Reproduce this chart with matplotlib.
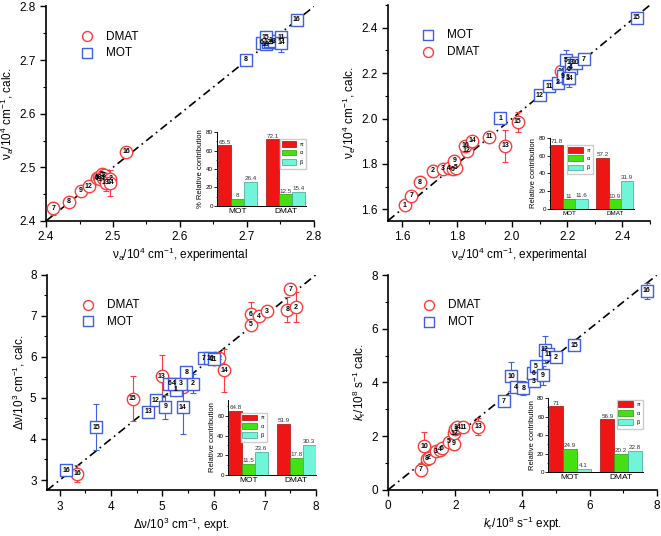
import numpy as np
import matplotlib
matplotlib.use("Agg")
import matplotlib.pyplot as plt
from matplotlib.ticker import MultipleLocator

plt.rcParams["font.family"] = ["Liberation Sans", "DejaVu Sans"]
plt.rcParams["mathtext.fontset"] = "custom"
plt.rcParams["mathtext.rm"] = "Liberation Sans"
plt.rcParams["mathtext.it"] = "Liberation Sans:italic"
plt.rcParams["mathtext.default"] = "regular"

RED = "#ff3b3b"
BLUE = "#4060e0"
BAR_COLORS = ["#f01515", "#44e011", "#70f5d8"]
BAR_EDGES = ["#a01010", "#2a9a10", "#40a090"]

# ---- panel A: nu_a ----
a_dmat_id = [7, 8, 9, 12, 6, 10, 5, 1, 3, 4, 2, 13, 14, 16]
a_dmat_x = [2.411, 2.434, 2.452, 2.464, 2.476, 2.479, 2.483, 2.480, 2.487, 2.485, 2.496, 2.489, 2.496, 2.520]
a_dmat_y = [2.424, 2.436, 2.456, 2.465, 2.480, 2.482, 2.487, 2.478, 2.485, 2.480, 2.479, 2.471, 2.471, 2.529]
a_dmat_err = [0.012, 0, 0, 0, 0, 0, 0, 0, 0, 0, 0, 0.015, 0.025, 0]
a_mot_id = [8, 6, 10, 12, 5, 1, 3, 15, 11, 14, 16]
a_mot_x = [2.698, 2.722, 2.728, 2.731, 2.737, 2.735, 2.740, 2.728, 2.751, 2.751, 2.774]
a_mot_y = [2.701, 2.732, 2.730, 2.733, 2.733, 2.736, 2.735, 2.743, 2.743, 2.732, 2.775]
a_mot_err = [0.008, 0, 0, 0, 0, 0, 0, 0.012, 0, 0.016, 0]
a_bars_mot = [65.5, 8, 26.4]
a_bars_dmat = [72.1, 12.5, 15.4]

# ---- panel B: nu_e ----
b_dmat_id = [1, 7, 8, 2, 3, 4, 6, 5, 9, 12, 10, 14, 11, 13, 15, 16]
b_dmat_x = [1.610, 1.634, 1.665, 1.712, 1.748, 1.770, 1.785, 1.795, 1.790, 1.835, 1.830, 1.855, 1.917, 1.974, 2.020, 2.177]
b_dmat_y = [1.618, 1.659, 1.720, 1.769, 1.779, 1.780, 1.776, 1.782, 1.813, 1.857, 1.879, 1.901, 1.919, 1.879, 1.985, 2.209]
b_dmat_err = [0, 0, 0.02, 0.025, 0, 0, 0, 0, 0, 0, 0, 0, 0, 0.07, 0.045, 0]
b_mot_id = [1, 12, 11, 2, 9, 3, 6, 4, 14, 5, 13, 10, 7, 15]
b_mot_x = [1.957, 2.101, 2.135, 2.165, 2.185, 2.201, 2.205, 2.213, 2.207, 2.195, 2.213, 2.231, 2.261, 2.452]
b_mot_y = [2.001, 2.102, 2.143, 2.158, 2.187, 2.180, 2.217, 2.224, 2.177, 2.256, 2.246, 2.246, 2.261, 2.444]
b_mot_err = [0, 0, 0, 0, 0, 0, 0, 0, 0.04, 0.045, 0, 0, 0, 0]
b_bars_mot = [71.8, 11, 11.6]
b_bars_dmat = [57.2, 10.9, 31.9]

# ---- panel C: delta nu ----
c_dmat_id = [16, 15, 13, 11, 1, 9, 12, 14, 6, 5, 4, 3, 8, 2, 7]
c_dmat_x = [3.345, 4.42, 4.986, 5.40, 6.00, 6.03, 6.10, 6.21, 6.73, 6.73, 6.89, 7.04, 7.44, 7.60, 7.50]
c_dmat_y = [3.154, 4.985, 5.53, 5.27, 5.94, 5.96, 5.97, 5.67, 7.04, 6.78, 6.99, 7.11, 7.15, 7.21, 7.65]
c_dmat_err = [0.2, 0.55, 0.52, 0, 0, 0, 0, 0.52, 0.3, 0, 0, 0, 0.3, 0.37, 0.15]
c_mot_id = [16, 15, 13, 12, 9, 1, 6, 4, 3, 2, 8, 14, 7, 10, 11]
c_mot_x = [3.13, 3.716, 4.725, 4.875, 5.06, 5.26, 5.135, 5.23, 5.37, 5.59, 5.47, 5.40, 5.81, 5.93, 6.00]
c_mot_y = [3.235, 4.29, 4.66, 4.945, 4.78, 5.20, 5.34, 5.34, 5.34, 5.34, 5.63, 4.77, 5.96, 5.96, 5.94]
c_mot_err = [0, 0.55, 0, 0, 0.3, 0, 0.15, 0, 0, 0.23, 0.12, 0.65, 0, 0, 0]
c_bars_mot = [64.8, 11.5, 23.6]
c_bars_dmat = [51.9, 17.8, 30.3]

# ---- panel D: k_r ----
d_dmat_id = [7, 10, 8, 2, 3, 4, 6, 5, 9, 12, 1, 14, 11, 13]
d_dmat_x = [0.974, 1.07, 1.14, 1.22, 1.42, 1.54, 1.59, 1.81, 1.96, 1.96, 2.00, 2.06, 2.24, 2.68]
d_dmat_y = [0.746, 1.62, 1.16, 1.20, 1.43, 1.49, 1.55, 1.78, 1.72, 2.11, 2.25, 2.33, 2.33, 2.35]
d_dmat_err = [0.25, 0.53, 0, 0, 0, 0, 0, 0, 0.25, 0, 0, 0, 0, 0.32]
d_mot_id = [7, 10, 4, 8, 3, 6, 5, 9, 12, 11, 2, 15, 16]
d_mot_x = [3.45, 3.66, 3.81, 4.03, 4.34, 4.32, 4.39, 4.60, 4.67, 4.77, 5.00, 5.55, 7.70]
d_mot_y = [3.30, 4.23, 3.82, 3.79, 4.04, 4.35, 4.60, 4.27, 5.22, 5.06, 4.95, 5.39, 7.42]
d_mot_err = [0, 0.55, 0, 0.25, 0.2, 0, 0.15, 0.35, 0.5, 0, 0, 0, 0.3]
d_bars_mot = [71, 24.9, 4.1]
d_bars_dmat = [56.9, 20.2, 22.8]

groups = ["MOT", "DMAT"]
bar_names = [r"$\pi$", r"$\alpha$", r"$\beta$"]

fig = plt.figure(figsize=(6.61, 5.36), dpi=100)


def scatter_panel(rect, lims, major, minor, xlabel, ylabel, dmat, mot, mot_first):
    ax = fig.add_axes(rect)
    ax.plot(lims, lims, color="black", lw=1.2, ls=(0, (5, 2.5, 1, 2.5)), zorder=1)
    handles = {}
    for (ids, xs, ys, errs), col, mk, name, z in [
        (dmat, RED, "o", "DMAT", 3),
        (mot, BLUE, "s", "MOT", 4),
    ]:
        ax.errorbar(xs, ys, yerr=errs, fmt="none", ecolor=col, elinewidth=0.8,
                    capsize=2.5, capthick=0.8, zorder=z)
        handles[name] = ax.scatter(xs, ys, s=80 if mk == "o" else 70, marker=mk,
                                   facecolor="white", edgecolor=col, lw=1.0,
                                   zorder=z, label=name)
        for i, x, y in zip(ids, xs, ys):
            ax.text(x, y, str(i), fontsize=5, fontweight="bold", ha="center",
                    va="center", zorder=z + 0.5)
    ax.set_xlim(lims)
    ax.set_ylim(lims)
    ax.xaxis.set_major_locator(MultipleLocator(major))
    ax.yaxis.set_major_locator(MultipleLocator(major))
    ax.xaxis.set_minor_locator(MultipleLocator(minor))
    ax.yaxis.set_minor_locator(MultipleLocator(minor))
    for s in ["top", "right"]:
        ax.spines[s].set_visible(False)
    for s in ["left", "bottom"]:
        ax.spines[s].set_linewidth(1.2)
    ax.tick_params(which="major", direction="out", length=4, width=1, labelsize=8.5)
    ax.tick_params(which="minor", direction="out", length=2.5, width=0.8)
    ax.set_xlabel(xlabel, fontsize=8.5, labelpad=2)
    ax.set_ylabel(ylabel, fontsize=8.5, labelpad=2)
    order = ["MOT", "DMAT"] if mot_first else ["DMAT", "MOT"]
    ax.legend([handles[k] for k in order], order, loc="upper left",
              bbox_to_anchor=(0.09, 0.91), frameon=False, fontsize=8.5,
              markerscale=0.8, handletextpad=0.6, labelspacing=0.4,
              borderaxespad=0)
    return ax


def inset_bars(rect, mot_vals, dmat_vals, ylabel, ytop, leg_loc, leg_anchor, grp_fs):
    ax = fig.add_axes(rect)
    w = 0.27
    for k in range(3):
        vals = [mot_vals[k], dmat_vals[k]]
        xs = np.arange(2) + (k - 1) * w
        ax.bar(xs, vals, width=w, color=BAR_COLORS[k], edgecolor=BAR_EDGES[k],
               lw=0.5, label=bar_names[k])
        for x, v in zip(xs, vals):
            ax.text(x, v + 0.8, f"{v:g}", fontsize=4.5, ha="center", va="bottom",
                    color="#333333")
    ax.set_xlim(-0.42, 1.42)
    ax.set_ylim(0, ytop)
    ax.set_xticks([0, 1])
    ax.set_xticklabels(groups, fontsize=grp_fs)
    ax.yaxis.set_major_locator(MultipleLocator(20))
    ax.yaxis.set_minor_locator(MultipleLocator(10))
    ax.tick_params(axis="x", length=0, pad=1.5)
    ax.tick_params(axis="y", which="major", length=2, width=0.6, labelsize=4.5, pad=1)
    ax.tick_params(axis="y", which="minor", length=1, width=0.5)
    for s in ["top", "right"]:
        ax.spines[s].set_visible(False)
    for s in ["left", "bottom"]:
        ax.spines[s].set_linewidth(0.7)
    ax.set_ylabel(ylabel, fontsize=5.5, labelpad=1)
    ax.legend(loc=leg_loc, bbox_to_anchor=leg_anchor, fontsize=4, frameon=True,
              fancybox=False, edgecolor="#cccccc", framealpha=1,
              handlelength=2.6, handleheight=1.2, labelspacing=0.25,
              borderpad=0.3, handletextpad=0.5, borderaxespad=0)
    return ax


scatter_panel([0.0696, 0.5877, 0.4054, 0.4002], (2.4, 2.8), 0.1, 0.05,
              r"$\nu_a$/10$^4$ cm$^{-1}$, experimental",
              r"$\nu_a$/10$^4$ cm$^{-1}$, calc.",
              (a_dmat_id, a_dmat_x, a_dmat_y, a_dmat_err),
              (a_mot_id, a_mot_x, a_mot_y, a_mot_err), False)
inset_bars([0.3283, 0.6157, 0.1346, 0.138], a_bars_mot, a_bars_dmat,
           "% Relative contribution", 80, "upper right", (1.0, 0.9), 6)

scatter_panel([0.587, 0.5883, 0.3964, 0.4024], (1.55, 2.5), 0.2, 0.1,
              r"$\nu_e$/10$^4$ cm$^{-1}$, experimental",
              r"$\nu_e$/10$^4$ cm$^{-1}$, calc.",
              (b_dmat_id, b_dmat_x, b_dmat_y, b_dmat_err),
              (b_mot_id, b_mot_x, b_mot_y, b_mot_err), True)
inset_bars([0.832, 0.610, 0.127, 0.133], b_bars_mot, b_bars_dmat,
           "Relative contribution", 80, "upper left", (0.2, 0.9), 4.5)

scatter_panel([0.0711, 0.0853, 0.407, 0.4022], (2.75, 8), 1, 0.5,
              r"$\Delta\nu$/10$^3$ cm$^{-1}$, expt.",
              r"$\Delta\nu$/10$^3$ cm$^{-1}$, calc.",
              (c_dmat_id, c_dmat_x, c_dmat_y, c_dmat_err),
              (c_mot_id, c_mot_x, c_mot_y, c_mot_err), False)
inset_bars([0.3454, 0.1132, 0.133, 0.141], c_bars_mot, c_bars_dmat,
           "Relative contribution", 76, "upper left", (0.14, 0.83), 6)

scatter_panel([0.5874, 0.0864, 0.406, 0.4], (0, 8), 2, 1,
              r"$\mathit{k}_r$/10$^8$ s$^{-1}$ expt.",
              r"$\mathit{k}_r$/10$^8$ s$^{-1}$ calc.",
              (d_dmat_id, d_dmat_x, d_dmat_y, d_dmat_err),
              (d_mot_id, d_mot_x, d_mot_y, d_mot_err), False)
inset_bars([0.8295, 0.1188, 0.143, 0.1386], d_bars_mot, d_bars_dmat,
           "Relative contribution", 80, "upper right", (1.0, 0.98), 6)

fig.savefig("out.png", dpi=100)
